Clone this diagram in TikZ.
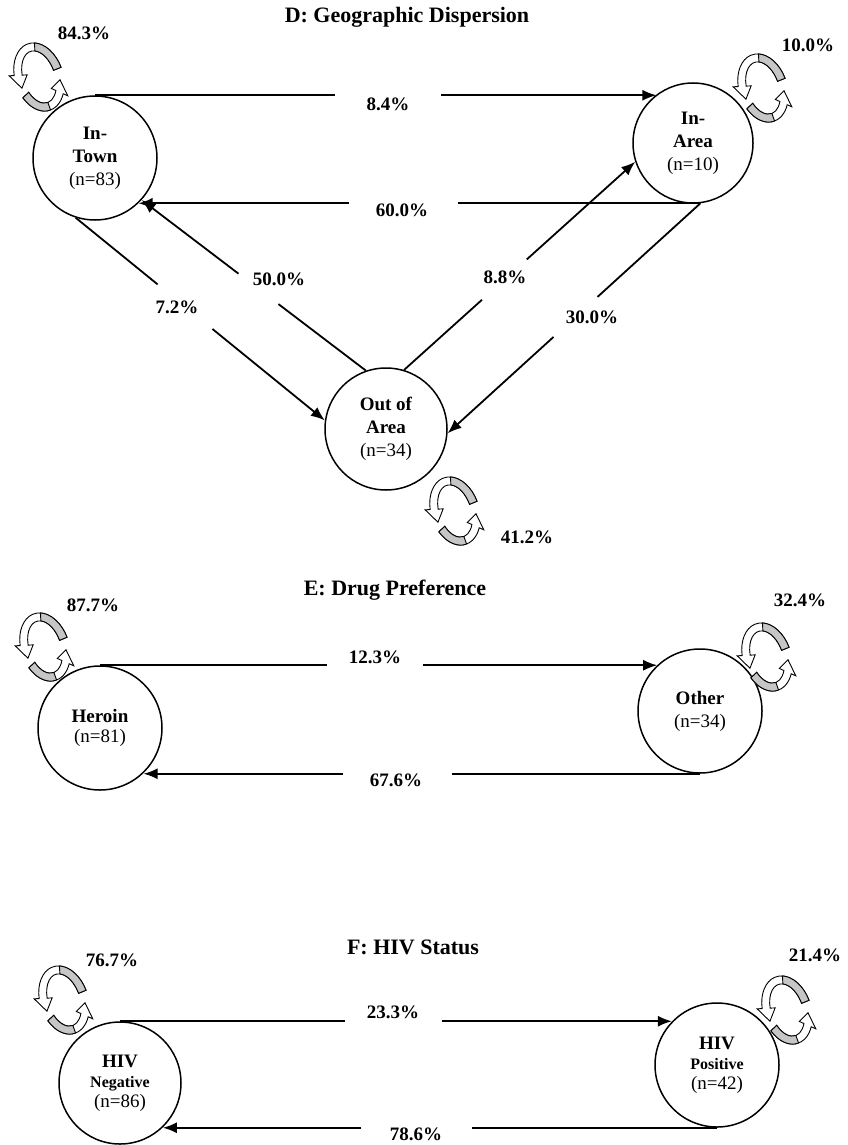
\documentclass[tikz,border=0pt]{standalone}
\usepackage{fontspec}
\setmainfont{Liberation Serif}
\usetikzlibrary{arrows.meta}

\newcommand\bandarrow[3]{%
  \filldraw[fill=white] (#1:24pt and 35pt) arc[start angle=#1, end angle=#3, x radius=24pt, y radius=35pt]
    -- (#3:29pt and 40pt) -- ({#3+25}:20pt and 31pt) -- (#3:11pt and 22pt) -- (#3:16pt and 27pt)
    arc[start angle=#3, end angle=#1, x radius=16pt, y radius=27pt] -- cycle;
  \filldraw[fill=gray!45] (#1:24pt and 35pt) arc[start angle=#1, end angle=#2, x radius=24pt, y radius=35pt]
    -- (#2:16pt and 27pt) arc[start angle=#2, end angle=#1, x radius=16pt, y radius=27pt] -- cycle;
}

\tikzset{
  stn/.style={circle, draw, line width=1.5pt, minimum size=124pt, inner sep=0pt, align=center,
              font=\fontsize{19}{23}\selectfont},
  conn/.style={line width=1.8pt},
  arr/.style={line width=1.8pt, -{Latex[length=14pt,width=11pt]}},
  lab/.style={font=\fontsize{19}{23}\selectfont\bfseries, inner sep=0pt},
  ttl/.style={font=\fontsize{22}{26}\selectfont\bfseries, inner sep=0pt},
  cycicon/.pic={\begin{scope}[rotate=18, line width=0.9pt]
      \bandarrow{4}{75}{165}
      \bandarrow{205}{272}{318}
    \end{scope}}
}

\begin{document}
\begin{tikzpicture}[x=1pt,y=1pt]
\useasboundingbox (0,0) rectangle (847,-1145);
\fill[white] (0,0) rectangle (847,-1145);

% ---------------- Panel D ----------------
\node[ttl] (tD) at (407,-17) {D: Geographic Dispersion};
\node[stn] (town) at (95,-158) {\textbf{In-}\\\textbf{Town}\\(n=83)};
\node[stn, minimum size=120pt] (area) at (693,-143) {\textbf{In-}\\\textbf{Area}\\(n=10)};
\node[stn, minimum size=122pt] (out) at (386,-429) {\textbf{Out of}\\\textbf{Area}\\(n=34)};

% 8.4%
\path (town.north) -- (town.north -| area.127) coordinate[pos=0.427] (d1a) coordinate[pos=0.617] (d1b);
\draw[conn] (town.north) -- (d1a);
\draw[arr] (d1b) -- (town.north -| area.127);
\node[lab] (l84) at (388,-104) {8.4\%};

% 60.0%
\path (area.-83) -- (area.-83 -| town.-46.5) coordinate[pos=0.432] (d2a) coordinate[pos=0.626] (d2b);
\draw[conn] (area.-83) -- (d2a);
\draw[arr] (d2b) -- (area.-83 -| town.-46.5);
\node[lab] (l60) at (402,-210) {60.0\%};

% 7.2%
\path (town.-108) -- (out.172) coordinate[pos=0.329] (d3a) coordinate[pos=0.549] (d3b);
\draw[conn] (town.-108) -- (d3a);
\draw[arr] (d3b) -- (out.172);
\node[lab] (l72) at (177,-307) {7.2\%};

% 50.0%
\path (out.109) -- (town.-42) coordinate[pos=0.39] (d4a) coordinate[pos=0.568] (d4b);
\draw[conn] (out.109) -- (d4a);
\draw[arr] (d4b) -- (town.-42);
\node[lab] (l50) at (279,-279) {50.0\%};

% 8.8%
\path (out.73) -- (area.198) coordinate[pos=0.337] (d5a) coordinate[pos=0.531] (d5b);
\draw[conn] (out.73) -- (d5a);
\draw[arr] (d5b) -- (area.198);
\node[lab] (l88) at (505,-277) {8.8\%};

% 30.0%
\path (area.-83) -- (out.-4) coordinate[pos=0.407] (d6a) coordinate[pos=0.581] (d6b);
\draw[conn] (area.-83) -- (d6a);
\draw[arr] (d6b) -- (out.-4);
\node[lab] (l30) at (592,-317) {30.0\%};

% self loops D
\pic at (39,-77) {cycicon};
\pic at (763,-88) {cycicon};
\pic at (455,-511) {cycicon};
\node[lab] (s843) at (84,-33) {84.3\%};
\node[lab] (s100) at (808,-45) {10.0\%};
\node[lab] (s412) at (527,-537) {41.2\%};

% ---------------- Panel E ----------------
\node[ttl] (tE) at (395,-590) {E: Drug Preference};
\node[stn] (her) at (100,-728) {\textbf{Heroin}\\[-3pt](n=81)};
\node[stn] (oth) at (700,-711) {\textbf{Other}\\(n=34)};

% 12.3%
\path (her.north) -- (her.north -| oth.133.5) coordinate[pos=0.407] (e1a) coordinate[pos=0.580] (e1b);
\draw[conn] (her.north) -- (e1a);
\draw[arr] (e1b) -- (her.north -| oth.133.5);
\node[lab] (l123) at (375,-657) {12.3\%};

% 67.6%
\path (oth.south) -- (oth.south -| her.-46.5) coordinate[pos=0.445] (e2a) coordinate[pos=0.642] (e2b);
\draw[conn] (oth.south) -- (e2a);
\draw[arr] (e2b) -- (oth.south -| her.-46.5);
\node[lab] (l676) at (396,-780) {67.6\%};

\pic at (45,-647) {cycicon};
\pic at (767,-657) {cycicon};
\node[lab] (s877) at (93,-605) {87.7\%};
\node[lab] (s324) at (800,-600) {32.4\%};

% ---------------- Panel F ----------------
\node[ttl] (tF) at (413,-947) {F: HIV Status};
\node[stn, minimum size=122pt] (neg) at (120,-1083) {\textbf{HIV}\\[-3pt]{\fontsize{16}{19}\selectfont\textbf{Negative}}\\[-3pt](n=86)};
\node[stn] (pos) at (717,-1065) {\textbf{HIV}\\[-3pt]{\fontsize{16}{19}\selectfont\textbf{Positive}}\\[-3pt](n=42)};

% 23.3%
\path (neg.north) -- (neg.north -| pos.136) coordinate[pos=0.407] (f1a) coordinate[pos=0.583] (f1b);
\draw[conn] (neg.north) -- (f1a);
\draw[arr] (f1b) -- (neg.north -| pos.136);
\node[lab] (l233) at (393,-1012) {23.3\%};

% 78.6%
\path (pos.south) -- (pos.south -| neg.-46) coordinate[pos=0.442] (f2a) coordinate[pos=0.642] (f2b);
\draw[conn] (pos.south) -- (f2a);
\draw[arr] (f2b) -- (pos.south -| neg.-46);
\node[lab] (l786) at (416,-1134) {78.6\%};

\pic at (64,-1000) {cycicon};
\pic at (787,-1010) {cycicon};
\node[lab] (s767) at (112,-960) {76.7\%};
\node[lab] (s214) at (815,-955) {21.4\%};
\end{tikzpicture}
\end{document}
